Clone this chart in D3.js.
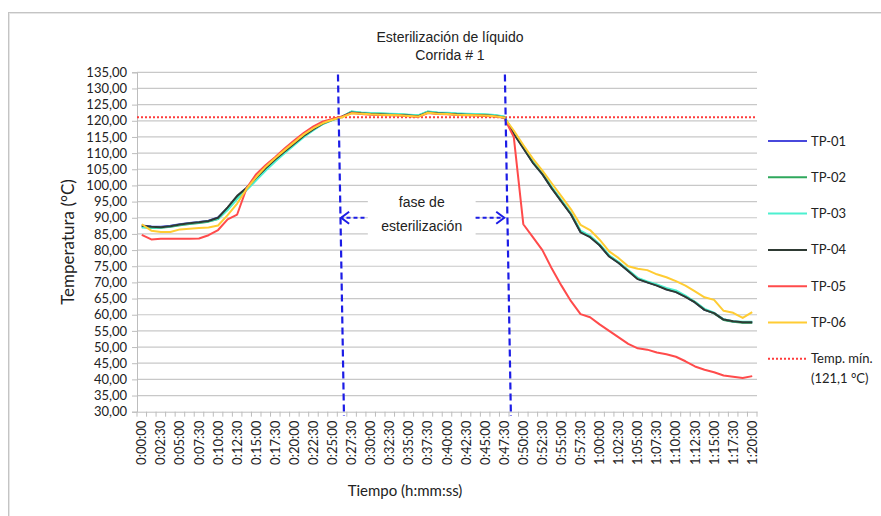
<!DOCTYPE html>
<html>
<head>
<meta charset="utf-8">
<script src="https://cdn.jsdelivr.net/npm/d3@7"></script>
<style>
  body { margin: 0; background: #fff; }
  text { fill: #222; }
</style>
</head>
<body>
<div id="chart"></div>
<script>
//////////////////////////////////////////////////////////////////////////
//   DATA
//////////////////////////////////////////////////////////////////////////

// one reading every 1:15
var categories = [
  '0:00:00','0:01:15','0:02:30','0:03:45','0:05:00','0:06:15','0:07:30','0:08:45','0:10:00','0:11:15',
  '0:12:30','0:13:45','0:15:00','0:16:15','0:17:30','0:18:45','0:20:00','0:21:15','0:22:30','0:23:45',
  '0:25:00','0:26:15','0:27:30','0:28:45','0:30:00','0:31:15','0:32:30','0:33:45','0:35:00','0:36:15',
  '0:37:30','0:38:45','0:40:00','0:41:15','0:42:30','0:43:45','0:45:00','0:46:15','0:47:30','0:48:45',
  '0:50:00','0:51:15','0:52:30','0:53:45','0:55:00','0:56:15','0:57:30','0:58:45','1:00:00','1:01:15',
  '1:02:30','1:03:45','1:05:00','1:06:15','1:07:30','1:08:45','1:10:00','1:11:15','1:12:30','1:13:45',
  '1:15:00','1:16:15','1:17:30','1:18:45','1:20:00'
]

var tickLabels = [
  '0:00:00','0:02:30','0:05:00','0:07:30','0:10:00','0:12:30','0:15:00','0:17:30','0:20:00','0:22:30',
  '0:25:00','0:27:30','0:30:00','0:32:30','0:35:00','0:37:30','0:40:00','0:42:30','0:45:00','0:47:30',
  '0:50:00','0:52:30','0:55:00','0:57:30','1:00:00','1:02:30','1:05:00','1:07:30','1:10:00','1:12:30',
  '1:15:00','1:17:30','1:20:00'
]

var yTicks = [30,35,40,45,50,55,60,65,70,75,80,85,90,95,100,105,110,115,120,125,130,135]

var tp01 = [87.6,87.3,87.2,87.5,88.0,88.4,88.7,89.1,90.1,93.0,96.6,99.2,102.3,105.3,108.0,110.5,112.9,115.3,117.3,119.1,120.3,121.3,122.6,
            122.3,122.1,122.0,121.9,121.8,121.6,121.4,122.6,122.3,122.2,122.0,121.9,121.8,121.7,121.5,121.0,
            116.1,111.6,107.1,103.5,99.1,95.1,91.1,85.6,84.1,81.5,78.1,76.0,73.5,71.1,70.0,69.1,67.9,67.1,65.6,63.8,61.5,60.5,58.5,57.9,57.7,57.7]
var tp02 = [87.2,86.8,86.9,87.2,87.7,88.1,88.4,88.8,89.6,92.6,96.2,99.0,102.0,105.0,107.8,110.3,112.8,115.2,117.3,119.1,120.3,121.3,122.8,
            122.5,122.3,122.2,122.1,122.0,121.8,121.6,122.8,122.5,122.4,122.2,122.1,122.0,121.9,121.7,121.2,
            116.2,111.8,107.2,103.6,99.2,95.2,91.2,85.8,84.2,81.6,78.2,76.1,73.6,71.2,70.1,69.2,68.0,67.2,65.7,63.9,61.6,60.4,58.4,57.8,57.5,57.5]
var tp03 = [87.0,86.9,87.0,87.3,87.8,88.2,88.5,88.9,89.7,92.4,95.8,98.6,101.6,104.6,107.4,110.0,112.5,115.0,117.1,119.0,120.2,121.2,122.9,
            122.6,122.4,122.3,122.2,122.1,121.9,121.7,122.9,122.6,122.5,122.3,122.2,122.1,122.0,121.8,121.3,
            116.4,112.0,107.4,103.8,99.4,95.4,91.4,86.0,84.4,81.8,78.4,76.3,73.8,71.4,70.3,69.4,68.3,67.5,65.9,64.0,61.8,60.6,58.6,58.0,57.8,57.8]
var tp04 = [87.5,87.2,87.1,87.4,87.9,88.3,88.6,89.0,90.0,93.2,96.8,99.3,102.4,105.4,108.1,110.6,113.0,115.4,117.4,119.2,120.4,121.3,122.6,
            122.3,122.1,122.0,121.9,121.8,121.6,121.4,122.6,122.3,122.2,122.0,121.9,121.8,121.7,121.5,121.0,
            116.0,111.5,107.0,103.5,99.0,95.0,91.0,85.5,84.0,81.5,78.0,76.0,73.5,71.0,70.0,69.0,67.8,67.0,65.5,63.8,61.5,60.5,58.5,58.0,57.7,57.7]
var tp05 = [84.7,83.3,83.5,83.5,83.5,83.5,83.6,84.6,86.2,89.5,91.0,99.2,103.5,106.3,108.8,111.5,114.0,116.3,118.3,119.8,120.6,121.3,122.4,
            122.1,121.9,121.8,121.7,121.6,121.4,121.2,122.4,122.1,122.0,121.8,121.7,121.6,121.5,121.3,120.9,
            115.0,88.0,84.0,80.0,74.2,69.0,64.2,60.2,59.2,57.0,55.0,53.0,51.0,49.6,49.2,48.3,47.8,47.0,45.6,44.0,43.0,42.2,41.2,40.8,40.4,41.0]
var tp06 = [88.0,86.0,85.6,85.6,86.4,86.6,86.8,87.0,87.6,90.8,94.4,99.0,102.6,105.8,108.5,111.0,113.4,115.8,117.7,119.3,120.3,121.1,122.3,
            122.2,122.0,121.9,121.8,121.7,121.5,121.3,122.5,122.2,122.1,121.9,121.8,121.7,121.6,121.4,121.0,
            117.0,112.5,108.3,104.6,100.6,96.6,92.6,87.8,86.2,83.2,79.6,77.5,75.0,74.2,73.8,72.5,71.6,70.4,69.0,67.2,65.4,64.6,61.2,60.6,59.0,60.8]

var tempMin = 121.1

var series = [
  { name: 'TP-01', color: '#4848dc', values: tp01 },
  { name: 'TP-02', color: '#2fa85c', values: tp02 },
  { name: 'TP-03', color: '#4cf0d0', values: tp03 },
  { name: 'TP-04', color: '#2e3a33', values: tp04 },
  { name: 'TP-05', color: '#ff4b4b', values: tp05 },
  { name: 'TP-06', color: '#ffcc33', values: tp06 }
]

//////////////////////////////////////////////////////////////////////////
//   CHART
//////////////////////////////////////////////////////////////////////////

var width  = 881
var height = 516
var plot   = { left: 137, right: 757, top: 72.3, bottom: 411.7 }

var fontTick  = 'Lato, "Open Sans", sans-serif'
var fontTitle = '"Liberation Sans", Arial, sans-serif'

var svg = d3.select('#chart').append('svg')
    .attr('width',  width)
    .attr('height', height)

// window frame
svg.append('rect')
    .attr('x', 8.5).attr('y', 12.5)
    .attr('width', width).attr('height', height)
    .attr('fill', 'none').attr('stroke', '#c4c4c4')
svg.append('rect')
    .attr('x', 9.5).attr('y', 13.5)
    .attr('width', width).attr('height', height)
    .attr('fill', 'none').attr('stroke', '#e6e6e6')

// Scales
var x = d3.scaleBand().domain(categories).range([plot.left, plot.right]).padding(0)
var y = d3.scaleLinear().domain([30, 135]).range([plot.bottom, plot.top])
// category index -> pixel (centre of band), for annotations
var xi = d3.scaleLinear()
    .domain([0, categories.length - 1])
    .range([x(categories[0]) + x.bandwidth() / 2, x(categories[categories.length - 1]) + x.bandwidth() / 2])

// 1- Gridlines
svg.append('g').selectAll('line').data(yTicks.filter(d => d > 30))
  .enter().append('line')
    .attr('x1', plot.left).attr('x2', plot.right)
    .attr('y1', d => y(d)).attr('y2', d => y(d))
    .attr('stroke', '#c8c8c8').attr('stroke-width', 1.2)

// 2- Axes
var yAxis = d3.axisLeft(y)
    .tickValues(yTicks)
    .tickSize(5)
    .tickFormat(d => d3.format('.2f')(d).replace('.', ','))
var gy = svg.append('g').attr('transform', `translate(${plot.left},0)`).call(yAxis)
gy.select('.domain').attr('stroke', '#bdbdbd')
gy.selectAll('.tick line').attr('stroke', '#bdbdbd')
gy.selectAll('.tick text')
    .attr('x', -10)
    .style('font-family', fontTick).style('font-size', '13px').attr('fill', '#222')

var xAxis = d3.axisBottom(x)
    .tickValues(tickLabels)
    .tickSize(0)
var gx = svg.append('g').attr('transform', `translate(0,${plot.bottom})`).call(xAxis)
gx.select('.domain').attr('stroke', '#bdbdbd')
gx.selectAll('.tick text')
    .attr('transform', 'rotate(-90)')
    .attr('x', -9).attr('y', 0).attr('dy', '0.35em')
    .attr('text-anchor', 'end')
    .style('font-family', fontTick).style('font-size', '13px').attr('fill', '#222')

// category tick marks at band boundaries
svg.append('g').selectAll('line').data(categories.concat(['end']))
  .enter().append('line')
    .attr('x1', (d, i) => plot.left + i * x.bandwidth())
    .attr('x2', (d, i) => plot.left + i * x.bandwidth())
    .attr('y1', plot.bottom).attr('y2', plot.bottom + 5)
    .attr('stroke', '#bdbdbd')

// 3- Minimum temperature line
svg.append('line')
    .attr('x1', plot.left).attr('x2', plot.right)
    .attr('y1', y(tempMin)).attr('y2', y(tempMin))
    .attr('stroke', '#ff3b3b').attr('stroke-width', 2).attr('stroke-dasharray', '2,2')

// 4- Series
var line = d3.line()
    .x((d, i) => x(categories[i]) + x.bandwidth() / 2)
    .y(d => y(d))

svg.append('g').selectAll('path').data(series)
  .enter().append('path')
    .attr('d', d => line(d.values))
    .attr('fill', 'none')
    .attr('stroke', d => d.color)
    .attr('stroke-width', 2)
    .attr('stroke-linejoin', 'round')

// 5- Sterilisation phase annotation
var phase = [ { top: 20.57, bottom: 21.2 }, { top: 38.07, bottom: 38.7 } ]
var blue  = '#1c1ce6'

svg.append('g').selectAll('line').data(phase)
  .enter().append('line')
    .attr('x1', d => xi(d.top)).attr('y1', y(134.3))
    .attr('x2', d => xi(d.bottom)).attr('y2', y(28.7))
    .attr('stroke', blue).attr('stroke-width', 2.2).attr('stroke-dasharray', '7,4')

// white label box
svg.append('rect')
    .attr('x', xi(23.7)).attr('y', y(96.5))
    .attr('width', xi(35.0) - xi(23.7)).attr('height', y(82.5) - y(96.5))
    .attr('fill', '#fff')

var ya = y(90)
var arrows = [ { from: 23.35, to: 20.9 }, { from: 35.0, to: 38.0 } ]
svg.append('g').selectAll('line').data(arrows)
  .enter().append('line')
    .attr('x1', d => xi(d.from)).attr('x2', d => xi(d.to))
    .attr('y1', ya).attr('y2', ya)
    .attr('stroke', blue).attr('stroke-width', 2).attr('stroke-dasharray', '4,3')
svg.append('g').selectAll('path').data(arrows)
  .enter().append('path')
    .attr('d', function(d) {
        var tip = xi(d.to), s = d.to < d.from ? 1 : -1
        return `M${tip + s * 8},${ya - 6} L${tip},${ya} L${tip + s * 8},${ya + 6}`
    })
    .attr('fill', 'none').attr('stroke', blue).attr('stroke-width', 2)

svg.append('text')
    .attr('x', xi(29.35)).attr('y', y(93.3))
    .attr('text-anchor', 'middle')
    .style('font-family', fontTitle).style('font-size', '14px')
    .text('fase de')
svg.append('text')
    .attr('x', xi(29.35)).attr('y', y(86.0))
    .attr('text-anchor', 'middle')
    .style('font-family', fontTitle).style('font-size', '14px')
    .text('esterilización')

// 6- Titles
svg.append('text')
    .attr('x', 450).attr('y', 42)
    .attr('text-anchor', 'middle')
    .style('font-family', fontTitle).style('font-size', '14px')
    .text('Esterilización de líquido')
svg.append('text')
    .attr('x', 450).attr('y', 60)
    .attr('text-anchor', 'middle')
    .style('font-family', fontTitle).style('font-size', '14px')
    .text('Corrida # 1')

svg.append('text')
    .attr('transform', `translate(74,${(plot.top + plot.bottom) / 2}) rotate(-90)`)
    .attr('text-anchor', 'middle')
    .style('font-family', fontTick).style('font-size', '17px')
    .text('Temperatura (°C)')

svg.append('text')
    .attr('x', 405).attr('y', 496)
    .attr('text-anchor', 'middle')
    .style('font-family', fontTick).style('font-size', '15px')
    .text('Tiempo (h:mm:ss)')

// 7- Legend
var legendItems = series.map(d => ({ name: [d.name], color: d.color, dash: null }))
    .concat([{ name: ['Temp. mín.', '(121,1 °C)'], color: '#ff3b3b', dash: '2,2' }])

var lg = svg.append('g').selectAll('g').data(legendItems)
  .enter().append('g')
    .attr('transform', (d, i) => `translate(768,${141 + i * 36.3})`)
lg.append('line')
    .attr('x1', 0).attr('x2', 39)
    .attr('stroke', d => d.color).attr('stroke-width', 2)
    .attr('stroke-dasharray', d => d.dash)
lg.selectAll('text').data(d => d.name)
  .enter().append('text')
    .attr('x', 43).attr('y', (d, i) => i * 20).attr('dy', '0.35em')
    .style('font-family', fontTick).style('font-size', '13px')
    .text(d => d)
</script>
</body>
</html>
